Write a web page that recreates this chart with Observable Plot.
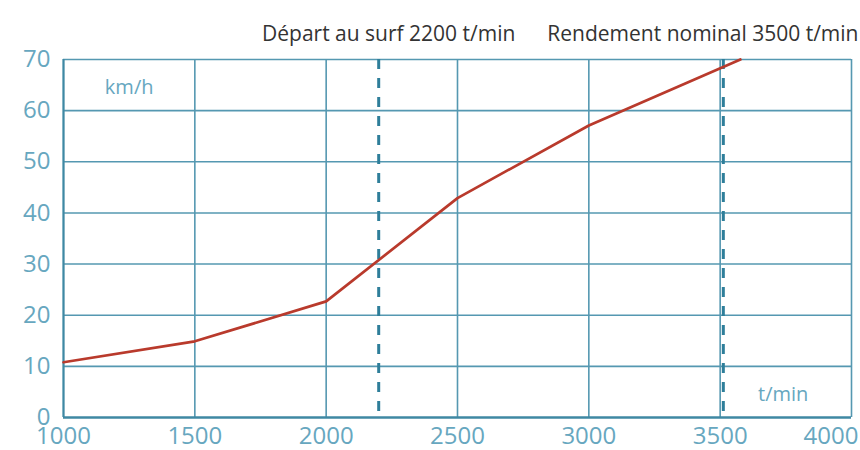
<!DOCTYPE html>
<html>
<head>
<meta charset="utf-8">
<script src="https://cdn.jsdelivr.net/npm/d3@7"></script>
<script src="https://cdn.jsdelivr.net/npm/@observablehq/plot@0.6"></script>
<style>
  body { margin: 0; background: #fff; }
  #chart { width: 860px; height: 450px; }
</style>
</head>
<body>
<div id="chart"></div>
<script>
const speedX = [1000, 1500, 2000, 2500, 3000, 3577];
const speedY = [10.8, 14.9, 22.7, 42.9, 57.1, 70];
const xTicks = [1000, 1500, 2000, 2500, 3000, 3500, 4000];
const yTicks = [0, 10, 20, 30, 40, 50, 60, 70];
const markers = [2200, 3512];
const markerLabels = ["Départ au surf 2200 t/min", "Rendement nominal 3500 t/min"];
const yUnit = "km/h";
const xUnit = "t/min";

const data = speedX.map((x, i) => ({x, y: speedY[i]}));
const grid = "#5598b1";
const tickColor = "#67a7bf";
const font = "Open Sans, Noto Sans, sans-serif";
const fmt = d3.format("d");

const chart = Plot.plot({
  width: 860,
  height: 450,
  marginLeft: 63,
  marginRight: 9,
  marginTop: 59,
  marginBottom: 33,
  style: {fontFamily: font, background: "#fff"},
  x: {domain: [1000, 4000]},
  y: {domain: [0, 70]},
  marks: [
    Plot.ruleX(xTicks, {stroke: grid, strokeWidth: 1.6}),
    Plot.ruleY(yTicks.slice(1), {stroke: grid, strokeWidth: 1.6}),
    Plot.ruleY([0], {stroke: "#3f88a3", strokeWidth: 2.5}),
    Plot.ruleX([1000], {stroke: "#3f88a3", strokeWidth: 2}),
    Plot.ruleX(markers, {stroke: "#2e7e9a", strokeWidth: 3, strokeDasharray: "10,9"}),
    Plot.line(data, {x: "x", y: "y", stroke: "#b93a2c", strokeWidth: 2.7}),
    Plot.axisY({ticks: yTicks, tickSize: 0, tickPadding: 13, fontSize: 24, color: tickColor, label: null, tickFormat: fmt}),
    Plot.axisX({ticks: xTicks.slice(0, -1), tickSize: 0, tickPadding: 9, fontSize: 24, color: tickColor, label: null, tickFormat: fmt}),
    Plot.axisX({ticks: xTicks.slice(-1), tickSize: 0, tickPadding: 9, fontSize: 24, color: tickColor, label: null, tickFormat: fmt, textAnchor: "end", dx: 7}),
    Plot.text([yUnit], {x: 1250, y: 64.5, text: d => d, fontSize: 20, fill: tickColor}),
    Plot.text([xUnit], {x: 3740, y: 4.5, text: d => d, fontSize: 20, fill: tickColor}),
    Plot.text([markerLabels[0]], {x: markers[0], frameAnchor: "top", dy: -33, dx: 10, text: d => d, fontSize: 21, fill: "#333", textAnchor: "middle"}),
    Plot.text([markerLabels[1]], {x: 4000, frameAnchor: "top", dy: -33, dx: 7, text: d => d, fontSize: 21, fill: "#333", textAnchor: "end"})
  ]
});
document.getElementById("chart").append(chart);
</script>
</body>
</html>
